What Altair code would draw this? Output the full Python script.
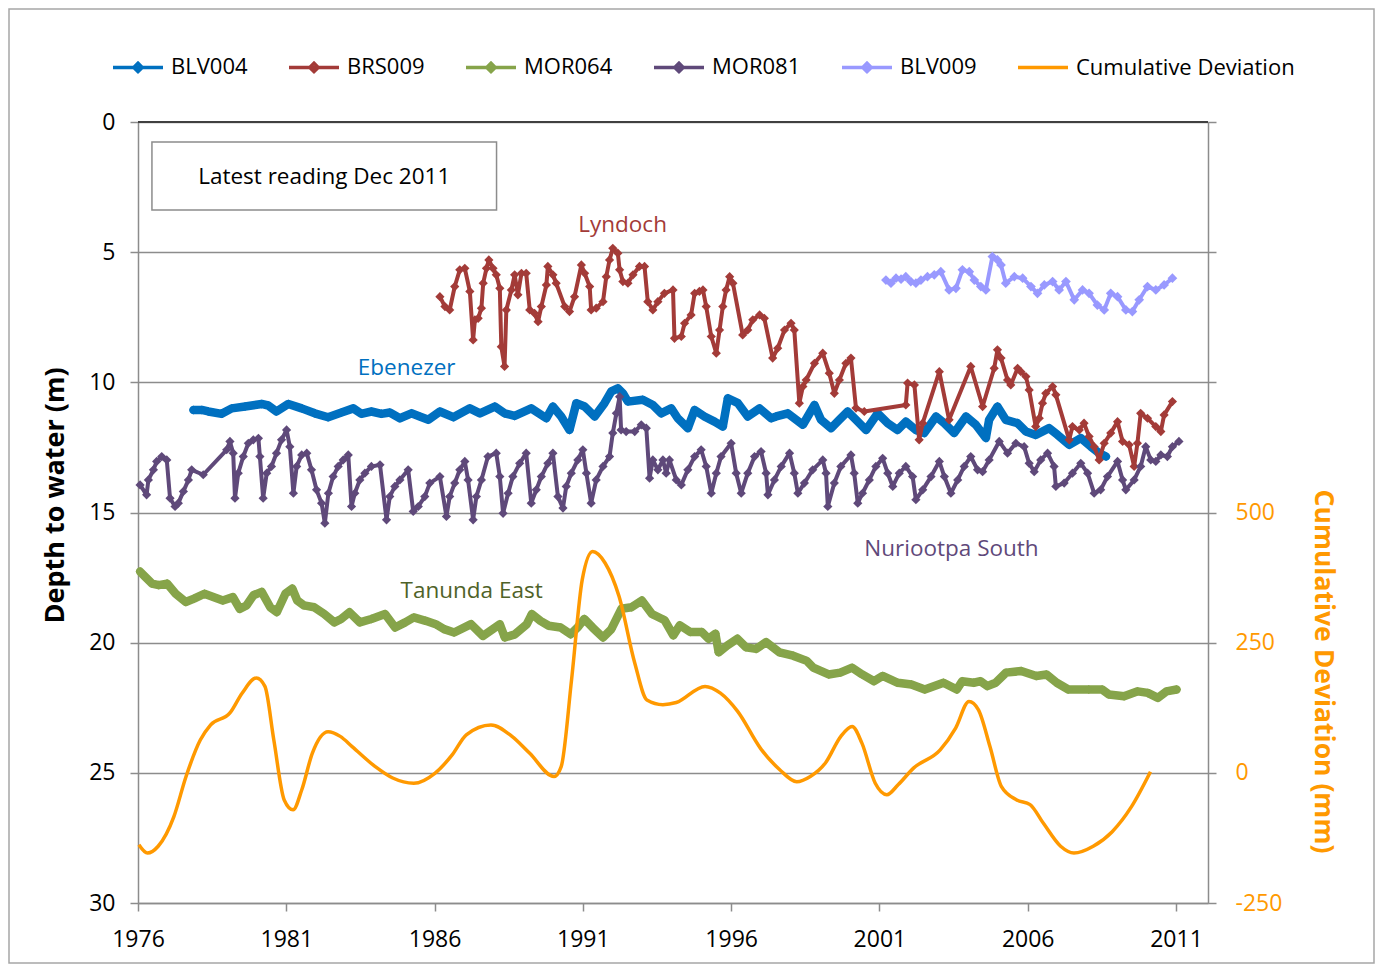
import altair as alt
import pandas as pd

# ---------------- data ----------------
blv004_year = [1977.87, 1978.15, 1978.37, 1978.82, 1979.16, 1979.61, 1980.17, 1980.39, 1980.67, 1981.07,
               1981.52, 1981.96, 1982.41, 1982.86, 1983.26, 1983.53, 1983.87, 1984.21, 1984.49, 1984.83,
               1985.22, 1985.50, 1985.79, 1986.18, 1986.63, 1987.19, 1987.53, 1988.03, 1988.36, 1988.70,
               1989.26, 1989.77, 1989.99, 1990.27, 1990.55, 1990.78, 1991.06, 1991.40, 1991.73, 1991.96,
               1992.18, 1992.35, 1992.52, 1993.02, 1993.36, 1993.64, 1993.98, 1994.20, 1994.54, 1994.77,
               1995.10, 1995.44, 1995.72, 1995.89, 1996.23, 1996.56, 1996.96, 1997.35, 1997.52, 1997.91,
               1998.42, 1998.81, 1999.03, 1999.37, 1999.65, 1999.93, 2000.21, 2000.55, 2000.94, 2001.28,
               2001.61, 2001.89, 2002.23, 2002.51, 2002.91, 2003.19, 2003.52, 2003.92, 2004.25, 2004.59,
               2004.70, 2004.98, 2005.26, 2005.66, 2005.94, 2006.27, 2006.72, 2007.01, 2007.40, 2007.79,
               2008.13, 2008.41, 2008.64]
blv004_depth = [11.06, 11.06, 11.12, 11.21, 11.00, 10.93, 10.83, 10.89, 11.12, 10.83,
                11.00, 11.19, 11.34, 11.16, 11.00, 11.21, 11.12, 11.21, 11.16, 11.38,
                11.19, 11.31, 11.44, 11.12, 11.34, 11.00, 11.19, 10.93, 11.19, 11.29,
                11.00, 11.38, 10.93, 11.31, 11.83, 10.80, 10.93, 11.31, 10.80, 10.35,
                10.23, 10.42, 10.74, 10.67, 10.87, 11.19, 11.00, 11.38, 11.76, 11.06,
                11.31, 11.51, 11.70, 10.61, 10.80, 11.31, 11.00, 11.38, 11.31, 11.19,
                11.63, 10.87, 11.44, 11.76, 11.44, 11.12, 11.44, 11.83, 11.19, 11.57,
                11.83, 11.51, 11.83, 11.95, 11.31, 11.57, 11.95, 11.31, 11.63, 12.14,
                11.44, 10.93, 11.44, 11.57, 11.89, 12.02, 11.76, 12.02, 12.40, 12.14,
                12.47, 12.72, 12.85]

brs009_year = [1986.18, 1986.35, 1986.51, 1986.68, 1986.85, 1987.02, 1987.19, 1987.30, 1987.36, 1987.47,
               1987.58, 1987.64, 1987.75, 1987.83, 1987.97, 1988.08, 1988.20, 1988.25, 1988.36, 1988.42,
               1988.59, 1988.70, 1988.81, 1988.93, 1989.09, 1989.21, 1989.37, 1989.49, 1989.60, 1989.77,
               1989.82, 1989.99, 1990.10, 1990.39, 1990.55, 1990.72, 1990.95, 1991.06, 1991.23, 1991.28,
               1991.45, 1991.68, 1991.79, 1991.90, 1992.01, 1992.18, 1992.24, 1992.35, 1992.52, 1992.69,
               1992.91, 1993.08, 1993.19, 1993.36, 1993.53, 1993.75, 1994.04, 1994.09, 1994.32, 1994.43,
               1994.65, 1994.77, 1994.93, 1995.05, 1995.16, 1995.33, 1995.50, 1995.61, 1995.72, 1995.83,
               1995.95, 1996.06, 1996.39, 1996.56, 1996.73, 1996.96, 1997.12, 1997.40, 1997.57, 1997.80,
               1998.02, 1998.13, 1998.30, 1998.42, 1998.53, 1998.81, 1999.09, 1999.31, 1999.48, 1999.65,
               1999.87, 2000.04, 2000.21, 2000.49, 2001.89, 2001.95, 2002.18, 2002.34, 2002.46, 2003.02,
               2003.35, 2004.08, 2004.48, 2004.87, 2004.98, 2005.10, 2005.32, 2005.43, 2005.66, 2005.77,
               2005.94, 2006.05, 2006.27, 2006.39, 2006.50, 2006.61, 2006.84, 2006.95, 2007.40, 2007.51,
               2007.74, 2007.90, 2008.07, 2008.24, 2008.41, 2008.58, 2008.80, 2009.03, 2009.20, 2009.42,
               2009.59, 2009.70, 2009.81, 2010.04, 2010.32, 2010.49, 2010.60, 2010.88]
brs009_depth = [6.71, 7.09, 7.22, 6.32, 5.68, 5.62, 6.51, 8.37, 7.60, 7.54,
                7.15, 6.19, 5.62, 5.30, 5.62, 5.87, 6.39, 8.63, 9.39, 7.22,
                6.45, 5.87, 6.64, 5.81, 5.81, 7.22, 7.35, 7.67, 7.09, 6.26,
                5.55, 5.87, 6.19, 7.09, 7.28, 6.71, 5.49, 5.81, 6.32, 7.22,
                7.15, 6.90, 5.94, 5.30, 4.85, 5.04, 5.68, 6.13, 6.19, 5.87,
                5.55, 5.55, 6.90, 7.22, 6.90, 6.58, 6.45, 8.31, 8.24, 7.73,
                7.41, 6.58, 6.51, 6.45, 7.09, 8.24, 8.88, 7.99, 7.09, 6.45,
                5.94, 6.19, 8.18, 7.99, 7.60, 7.41, 7.54, 9.07, 8.69, 7.99,
                7.73, 7.99, 10.80, 10.16, 9.91, 9.27, 8.88, 9.65, 10.42, 9.91,
                9.27, 9.07, 10.99, 11.12, 10.87, 10.03, 10.10, 12.21, 11.57, 9.59,
                11.44, 9.39, 10.93, 9.46, 8.75, 9.07, 9.91, 10.10, 9.46, 9.59,
                9.78, 10.29, 11.70, 11.38, 10.80, 10.42, 10.16, 10.48, 12.21, 11.70,
                11.83, 11.57, 12.08, 12.47, 12.98, 12.34, 11.95, 11.51, 12.27, 12.40,
                13.23, 12.34, 11.19, 11.38, 11.70, 11.89, 11.25, 10.74]

mor064_year = [1976.07, 1976.24, 1976.47, 1976.70, 1976.98, 1977.27, 1977.61, 1977.89, 1978.24, 1978.86,
               1979.20, 1979.43, 1979.66, 1979.89, 1980.17, 1980.46, 1980.68, 1980.97, 1981.20, 1981.37,
               1981.60, 1981.94, 1982.28, 1982.62, 1982.85, 1983.13, 1983.48, 1983.87, 1984.33, 1984.67,
               1985.01, 1985.30, 1985.70, 1986.04, 1986.32, 1986.66, 1987.23, 1987.63, 1988.20, 1988.37,
               1988.71, 1989.11, 1989.28, 1989.57, 1989.85, 1990.25, 1990.59, 1990.82, 1991.05, 1991.33,
               1991.68, 1991.96, 1992.30, 1992.64, 1992.99, 1993.33, 1993.76, 1994.05, 1994.27, 1994.62,
               1995.01, 1995.24, 1995.47, 1995.58, 1995.87, 1996.21, 1996.50, 1996.84, 1997.18, 1997.63,
               1998.09, 1998.55, 1998.77, 1999.29, 1999.68, 2000.08, 2000.42, 2000.82, 2001.11, 2001.62,
               2002.08, 2002.53, 2003.16, 2003.61, 2003.79, 2004.18, 2004.41, 2004.64, 2004.92, 2005.27,
               2005.78, 2006.29, 2006.63, 2006.98, 2007.37, 2008.06, 2008.51, 2008.74, 2009.25, 2009.71,
               2010.05, 2010.39, 2010.68, 2011.02]
mor064_depth = [17.27, 17.47, 17.73, 17.79, 17.73, 18.12, 18.44, 18.31, 18.12, 18.38,
                18.25, 18.70, 18.57, 18.18, 18.05, 18.64, 18.83, 18.12, 17.92, 18.38,
                18.57, 18.64, 18.90, 19.22, 19.09, 18.83, 19.22, 19.09, 18.90, 19.42,
                19.22, 19.03, 19.16, 19.29, 19.48, 19.61, 19.29, 19.74, 19.29, 19.80,
                19.68, 19.29, 18.90, 19.16, 19.35, 19.42, 19.68, 19.42, 19.09, 19.42,
                19.80, 19.48, 18.70, 18.64, 18.38, 18.90, 19.14, 19.72, 19.33, 19.59,
                19.59, 19.85, 19.66, 20.37, 20.11, 19.85, 20.18, 20.24, 19.98, 20.37,
                20.50, 20.70, 20.96, 21.22, 21.15, 20.96, 21.22, 21.48, 21.28, 21.54,
                21.61, 21.80, 21.54, 21.80, 21.48, 21.54, 21.48, 21.67, 21.54, 21.15,
                21.09, 21.28, 21.22, 21.54, 21.80, 21.80, 21.80, 21.99, 22.06, 21.87,
                21.93, 22.12, 21.87, 21.80]

mor081_year = [1976.07, 1976.29, 1976.35, 1976.52, 1976.63, 1976.80, 1976.97, 1977.08, 1977.25, 1977.36,
               1977.53, 1977.70, 1977.81, 1978.20, 1978.99, 1979.10, 1979.21, 1979.27, 1979.38, 1979.55,
               1979.72, 1979.89, 1980.06, 1980.11, 1980.22, 1980.34, 1980.50, 1980.67, 1980.84, 1981.01,
               1981.12, 1981.24, 1981.35, 1981.52, 1981.69, 1981.85, 1982.02, 1982.19, 1982.30, 1982.42,
               1982.58, 1982.75, 1982.92, 1983.09, 1983.20, 1983.31, 1983.48, 1983.65, 1983.87, 1984.16,
               1984.38, 1984.49, 1984.66, 1984.83, 1985.11, 1985.28, 1985.45, 1985.67, 1985.84, 1986.18,
               1986.40, 1986.51, 1986.68, 1986.85, 1987.02, 1987.13, 1987.30, 1987.41, 1987.58, 1987.80,
               1988.08, 1988.20, 1988.31, 1988.48, 1988.64, 1988.87, 1989.09, 1989.26, 1989.43, 1989.60,
               1989.82, 1989.99, 1990.16, 1990.33, 1990.44, 1990.61, 1990.83, 1991.00, 1991.12, 1991.28,
               1991.45, 1991.68, 1991.90, 1992.01, 1992.13, 1992.24, 1992.29, 1992.46, 1992.75, 1992.97,
               1993.14, 1993.25, 1993.36, 1993.53, 1993.70, 1993.81, 1993.92, 1994.15, 1994.32, 1994.54,
               1994.77, 1994.99, 1995.16, 1995.33, 1995.50, 1995.66, 1996.00, 1996.17, 1996.34, 1996.56,
               1996.79, 1997.01, 1997.18, 1997.24, 1997.46, 1997.69, 1997.97, 1998.13, 1998.25, 1998.47,
               1998.75, 1999.09, 1999.20, 1999.26, 1999.48, 1999.70, 2000.04, 2000.15, 2000.27, 2000.43,
               2000.66, 2000.88, 2001.11, 2001.28, 2001.45, 2001.67, 2001.89, 2002.12, 2002.23, 2002.46,
               2002.74, 2003.02, 2003.19, 2003.41, 2003.64, 2003.86, 2004.08, 2004.31, 2004.48, 2004.70,
               2005.04, 2005.32, 2005.60, 2005.88, 2006.05, 2006.22, 2006.44, 2006.67, 2006.89, 2006.95,
               2007.23, 2007.51, 2007.79, 2008.02, 2008.24, 2008.46, 2008.69, 2009.03, 2009.20, 2009.31,
               2009.59, 2009.81, 2009.98, 2010.15, 2010.32, 2010.49, 2010.71, 2010.88, 2011.10]
mor081_depth = [13.94, 14.32, 13.75, 13.36, 13.04, 12.85, 12.98, 14.45, 14.77, 14.64,
                14.19, 13.75, 13.36, 13.55, 12.59, 12.27, 12.72, 14.45, 13.49, 12.85,
                12.34, 12.21, 12.15, 12.85, 14.45, 13.49, 13.23, 12.72, 12.21, 11.83,
                12.47, 14.26, 13.23, 12.79, 12.72, 13.36, 14.13, 14.64, 15.41, 14.26,
                13.62, 13.23, 12.98, 12.79, 14.77, 14.26, 13.75, 13.49, 13.23, 13.17,
                15.28, 14.39, 14.00, 13.75, 13.36, 14.96, 14.77, 14.39, 13.87, 13.62,
                15.15, 14.39, 13.87, 13.36, 13.04, 13.75, 15.28, 14.39, 13.75, 12.85,
                12.72, 13.62, 15.03, 14.26, 13.62, 13.11, 12.72, 14.64, 14.13, 13.62,
                13.11, 12.72, 14.39, 14.83, 14.00, 13.49, 12.98, 12.59, 13.49, 14.64,
                13.75, 13.23, 12.85, 11.95, 11.19, 10.55, 11.83, 11.89, 11.89, 11.63,
                11.76, 13.68, 12.98, 13.36, 12.98, 13.49, 12.98, 13.75, 13.94, 13.36,
                12.85, 12.59, 13.23, 14.26, 13.49, 12.85, 12.34, 13.49, 14.26, 13.49,
                12.85, 12.66, 13.49, 14.32, 13.75, 13.23, 12.72, 13.49, 14.26, 13.87,
                13.36, 12.98, 13.49, 14.77, 13.87, 13.23, 12.79, 13.49, 14.64, 14.26,
                13.75, 13.23, 12.92, 13.49, 14.00, 13.49, 13.23, 13.62, 14.51, 14.13,
                13.62, 13.04, 13.62, 14.26, 13.75, 13.23, 12.85, 13.36, 13.43, 12.98,
                12.27, 12.72, 12.34, 12.47, 13.11, 13.43, 12.98, 12.72, 13.23, 14.00,
                13.87, 13.49, 13.11, 13.49, 14.26, 14.13, 13.62, 13.04, 13.75, 14.13,
                13.75, 13.23, 12.47, 12.98, 13.04, 12.79, 12.85, 12.47, 12.27]

blv009_year = [2001.22, 2001.39, 2001.56, 2001.73, 2001.89, 2002.06, 2002.23, 2002.40, 2002.62, 2002.85,
               2003.07, 2003.35, 2003.58, 2003.80, 2004.03, 2004.20, 2004.42, 2004.59, 2004.81, 2004.98,
               2005.10, 2005.26, 2005.55, 2005.83, 2006.11, 2006.33, 2006.56, 2006.84, 2007.06, 2007.29,
               2007.57, 2007.85, 2008.07, 2008.35, 2008.58, 2008.80, 2009.03, 2009.31, 2009.53, 2009.76,
               2010.04, 2010.32, 2010.60, 2010.88]
blv009_depth = [6.07, 6.19, 6.00, 6.04, 5.94, 6.13, 6.19, 6.07, 5.94, 5.87,
                5.75, 6.45, 6.39, 5.68, 5.75, 6.07, 6.32, 6.45, 5.17, 5.30,
                5.49, 6.19, 5.94, 6.00, 6.32, 6.58, 6.26, 6.13, 6.45, 6.13,
                6.83, 6.45, 6.58, 7.03, 7.22, 6.58, 6.71, 7.22, 7.28, 6.83,
                6.32, 6.45, 6.26, 6.00]

cum_year = [1976.03, 1976.32, 1976.68, 1977.21, 1977.62, 1978.10, 1978.45, 1979.10, 1979.51, 1979.99,
            1980.28, 1980.58, 1980.93, 1981.23, 1981.52, 1981.88, 1982.41, 1982.82, 1983.23, 1984.00,
            1984.59, 1985.30, 1986.01, 1986.60, 1987.07, 1987.90, 1988.61, 1989.20, 1990.03, 1990.27,
            1990.62, 1990.98, 1991.33, 1991.75, 1992.22, 1992.75, 1993.16, 1993.70, 1994.15, 1995.12,
            1995.64, 1996.22, 1996.99, 1997.64, 1998.21, 1998.67, 1999.18, 1999.70, 2000.08, 2000.41,
            2000.86, 2001.25, 2001.63, 2002.15, 2003.05, 2003.57, 2004.02, 2004.34, 2004.73, 2005.11,
            2005.63, 2006.08, 2006.53, 2007.11, 2007.56, 2008.21, 2008.85, 2009.50, 2010.14]
cum_mm = [-138, -154, -141, -84, -7, 63, 92, 115, 153, 182,
          166, 63, -52, -71, -33, 38, 79, 70, 50, 12,
          -10, -20, -1, 35, 73, 92, 70, 38, -7, 12,
          179, 371, 425, 403, 339, 211, 140, 131, 135, 166,
          153, 118, 47, 6, -17, -7, 19, 70, 89, 57,
          -20, -42, -23, 9, 44, 86, 137, 121, 50, -26,
          -52, -61, -97, -141, -154, -141, -113, -65, 2]

series_names = ["BLV004", "BRS009", "MOR064", "MOR081", "BLV009", "Cumulative Deviation"]
series_colors = ["#0070C0", "#A33B38", "#86A44A", "#5F497A", "#9999FF", "#FF9900"]

label_text = ["Lyndoch", "Ebenezer", "Nuriootpa South", "Tanunda East"]
label_year = [1992.34, 1985.06, 2003.43, 1987.25]
label_depth = [3.96, 9.45, 16.40, 18.01]
label_color = ["#A33B38", "#0070C0", "#5F497A", "#4F6228"]

note_text = ["Latest reading Dec 2011"]

# ---------------- chart ----------------
FONT = "Open Sans"
GRID = "#8C8C8C"
ORANGE = "#FF9900"
W, H = 1070, 781
X_SCALE = alt.Scale(domain=[1976, 2012.08], nice=False, zero=False)
Y_SCALE = alt.Scale(domain=[0, 30], reverse=True, nice=False, zero=False)

x_axis = alt.Axis(values=list(range(1976, 2012, 5)), format="d", title=None, grid=False,
                  labelFontSize=23, labelFont=FONT, labelColor="black", labelPadding=17,
                  tickSize=8, tickColor=GRID, tickWidth=1.5, domainColor=GRID, domainWidth=1.5,
                  labelFlush=False, labelOverlap=False)

y_axis = alt.Axis(values=[0, 5, 10, 15, 20, 25, 30], title="Depth to water (m)", grid=True,
                  gridColor=GRID, gridWidth=1.5, domainColor=GRID, domainWidth=1.5,
                  tickColor=GRID, tickWidth=1.5, tickSize=8,
                  labelFontSize=23, labelFont=FONT, labelColor="black", labelPadding=15,
                  titleFont=FONT, titleFontSize=27, titleFontWeight="bold", titleColor="black",
                  titleAngle=-90, titleAlign="center", titleBaseline="middle", titleX=-83, titleY=373)


def xq(field):
    return alt.X(f"{field}:Q", scale=X_SCALE, axis=x_axis)


def yq(field):
    return alt.Y(f"{field}:Q", scale=Y_SCALE, axis=y_axis)


def series_layers(years, vals, color, sw, size):
    df = pd.DataFrame({"year": years, "depth": vals})
    base = alt.Chart(df)
    line = base.mark_line(color=color, strokeWidth=sw, strokeJoin="round", strokeCap="round").encode(
        x=xq("year"), y=yq("depth"))
    pts = base.mark_point(shape="diamond", filled=True, color=color, size=size, opacity=1).encode(
        x=xq("year"), y=yq("depth"))
    return [line, pts]


layers = []

# outer chart border
frame = alt.Chart(pd.DataFrame({"k": [0]})).mark_rect(fill=None, stroke="#A6A6A6", strokeWidth=1.5).encode(
    x=alt.value(-129), x2=alt.value(W + 166), y=alt.value(-113), y2=alt.value(H + 60))
layers.append(frame)

# darker top border line of the plot area (depth 0)
top_line = alt.Chart(pd.DataFrame({"depth": [0]})).mark_rule(color="#404040", strokeWidth=2).encode(
    y=yq("depth"), x=alt.value(0), x2=alt.value(W))
layers.append(top_line)

# note box
box_df = pd.DataFrame({"x0": [1976.47], "x1": [1988.09], "y0": [0.77], "y1": [3.38],
                       "xm": [1982.28], "ym": [2.11], "text": note_text})
box = alt.Chart(box_df).mark_rect(fill="white", stroke="#8C8C8C", strokeWidth=1.5).encode(
    x=xq("x0"), x2="x1:Q", y=yq("y0"), y2="y1:Q")
box_text = alt.Chart(box_df).mark_text(font=FONT, fontSize=22.5, color="black", align="center",
                                       baseline="middle").encode(
    x=xq("xm"), y=yq("ym"), text="text:N")
layers += [box, box_text]

layers += series_layers(blv004_year, blv004_depth, series_colors[0], 8.5, 80)
layers += series_layers(brs009_year, brs009_depth, series_colors[1], 4, 85)
layers += series_layers(mor064_year, mor064_depth, series_colors[2], 8.5, 80)
layers += series_layers(mor081_year, mor081_depth, series_colors[3], 4, 85)
layers += series_layers(blv009_year, blv009_depth, series_colors[4], 4, 95)

# text labels for the wells
lab_df = pd.DataFrame({"year": label_year, "depth": label_depth, "text": label_text, "color": label_color})
labels = alt.Chart(lab_df).mark_text(font=FONT, fontSize=22.5, align="center", baseline="middle").encode(
    x=xq("year"), y=yq("depth"), text="text:N", color=alt.Color("color:N", scale=None))
layers.append(labels)

# legend (only a legend, the marks are invisible)
line_path = "M-1,0L1,0"
dia_path = "M-1,0L1,0M0,-0.17L0.17,0L0,0.17L-0.17,0Z"
shape_range = [dia_path, dia_path, dia_path, dia_path, dia_path, line_path]
leg = alt.Legend(title=None, orient="none", legendX=-27, legendY=-82, direction="horizontal",
                 labelFont=FONT, labelFontSize=22, labelColor="black", labelOffset=6,
                 symbolSize=2500, symbolStrokeWidth=3.5, symbolOpacity=1, columnPadding=34,
                 labelLimit=400)
leg_df = pd.DataFrame({"series": series_names})
legend_layer = alt.Chart(leg_df).mark_point(filled=False, opacity=0, strokeWidth=3.5).encode(
    color=alt.Color("series:N", scale=alt.Scale(domain=series_names, range=series_colors), legend=leg),
    shape=alt.Shape("series:N", scale=alt.Scale(domain=series_names, range=shape_range), legend=leg))
layers.append(legend_layer)

depth_group = alt.layer(*layers)

cum_df = pd.DataFrame({"year": cum_year, "cum": cum_mm})
cum = alt.Chart(cum_df).mark_line(color=ORANGE, strokeWidth=3.5, interpolate="monotone").encode(
    x=xq("year"),
    y=alt.Y("cum:Q", scale=alt.Scale(domain=[-250, 1250], nice=False, zero=False),
            axis=alt.Axis(orient="right", values=[-250, 0, 250, 500, 750, 1000, 1250],
                          labelExpr="datum.value <= 500 ? '' + datum.value : ''",
                          grid=False, domainColor=GRID, domainWidth=1.5, tickColor=GRID, tickWidth=1.5,
                          tickSize=8, labelFontSize=23, labelFont=FONT, labelColor=ORANGE, labelPadding=19,
                          title="Cumulative Deviation (mm)", titleFont=FONT, titleFontSize=26.5,
                          titleFontWeight="bold", titleColor=ORANGE, titleAngle=90, titleAlign="center",
                          titleBaseline="middle", titleX=114, titleY=549)))

chart = alt.layer(depth_group, cum).resolve_scale(y="independent").properties(
    width=W, height=H,
    autosize=alt.AutoSizeParams(type="none"),
    padding={"left": 130, "top": 114, "right": 167, "bottom": 62},
).configure_view(stroke=None).configure(background="white")

chart.save("out.html", embed_options={"renderer": "svg", "actions": False})
